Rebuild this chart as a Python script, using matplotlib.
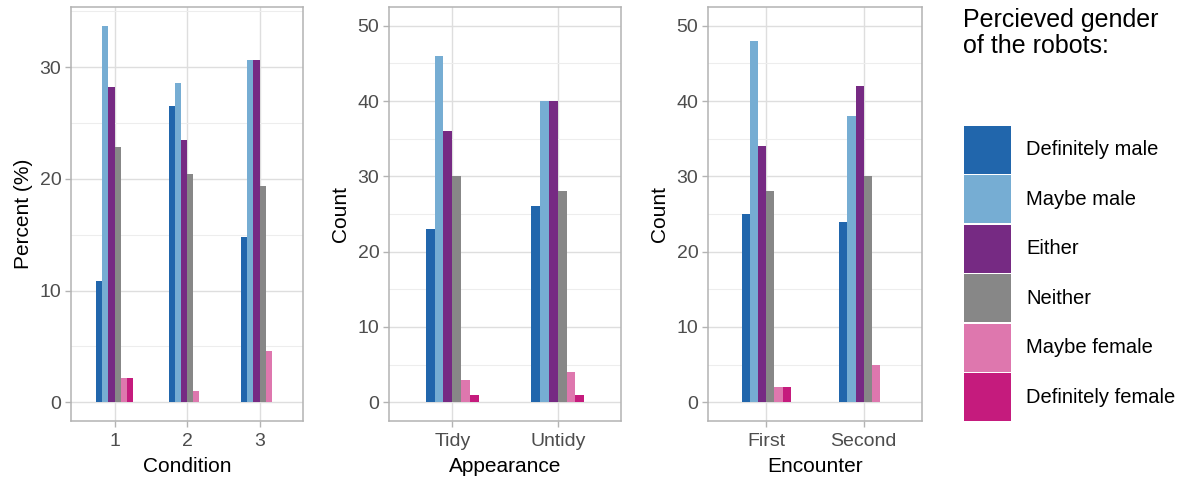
import matplotlib
matplotlib.use("Agg")
import matplotlib.pyplot as plt
from matplotlib.patches import Rectangle
from matplotlib.ticker import MultipleLocator
import numpy as np

plt.rcParams['font.family'] = ['Liberation Sans', 'DejaVu Sans']

genders = ["Definitely male", "Maybe male", "Either", "Neither",
           "Maybe female", "Definitely female"]
colors = ["#2166AC", "#76ADD3", "#762A83", "#878787", "#DE77AE", "#C51B7D"]

# Panel 1: percent by condition (rows = gender, cols = condition)
conditions = ["1", "2", "3"]
percent = {
    "Definitely male":   [10.87, 26.53, 14.77],
    "Maybe male":        [33.70, 28.57, 30.68],
    "Either":            [28.26, 23.47, 30.68],
    "Neither":           [22.83, 20.41, 19.32],
    "Maybe female":      [2.17, 1.02, 4.55],
    "Definitely female": [2.17, 0.0, 0.0],
}

# Panel 2: count by appearance
appearance = ["Tidy", "Untidy"]
count_app = {
    "Definitely male":   [23, 26],
    "Maybe male":        [46, 40],
    "Either":            [36, 40],
    "Neither":           [30, 28],
    "Maybe female":      [3, 4],
    "Definitely female": [1, 1],
}

# Panel 3: count by encounter
encounter = ["First", "Second"]
count_enc = {
    "Definitely male":   [25, 24],
    "Maybe male":        [48, 38],
    "Either":            [34, 42],
    "Neither":           [28, 30],
    "Maybe female":      [2, 5],
    "Definitely female": [2, 0],
}

W, H = 1181, 480
fig = plt.figure(figsize=(W / 100, H / 100), dpi=100)

def px_axes(left, right, top, bottom):
    return fig.add_axes([left / W, 1 - bottom / H, (right - left) / W, (bottom - top) / H])

grid_major = "#DEDEDE"
grid_minor = "#EDEDED"
border = "#B3B3B3"
tick_col = "#4D4D4D"

def draw_panel(ax, cats, data, xlabel, ylabel, ylim, major, minor):
    x = np.arange(1, len(cats) + 1)
    n = len(genders)
    bw = 0.5 / n
    for i, (g, c) in enumerate(zip(genders, colors)):
        ax.bar(x + (i - (n - 1) / 2) * bw, data[g], width=bw, color=c,
               edgecolor="none", zorder=3)
    ax.set_xlim(0.4, len(cats) + 0.6)
    ax.set_ylim(*ylim)
    ax.set_xticks(x)
    ax.set_xticklabels(cats)
    ax.yaxis.set_major_locator(MultipleLocator(major))
    ax.yaxis.set_minor_locator(MultipleLocator(minor))
    ax.grid(which="major", color=grid_major, linewidth=1.0, zorder=0)
    ax.grid(which="minor", axis="y", color=grid_minor, linewidth=0.8, zorder=0)
    ax.set_axisbelow(True)
    for s in ax.spines.values():
        s.set_color(border)
        s.set_linewidth(1.1)
    ax.tick_params(axis="both", which="major", color=border, length=4.5, width=1.0,
                   labelsize=14, labelcolor=tick_col, pad=2.5)
    ax.tick_params(axis="x", which="major", pad=4.5)
    ax.tick_params(axis="y", which="minor", length=0)
    ax.set_xlabel(xlabel, fontsize=15, color="black", labelpad=5)
    ax.set_ylabel(ylabel, fontsize=15, color="black", labelpad=5)

ax1 = px_axes(71, 303, 7, 421)
pmax = max(max(v) for v in percent.values())
draw_panel(ax1, conditions, percent, "Condition", "Percent (%)",
           (-0.05 * pmax, 1.05 * pmax), 10, 5)

ax2 = px_axes(389, 621, 7, 421)
draw_panel(ax2, appearance, count_app, "Appearance", "Count", (-2.5, 52.5), 10, 5)

ax3 = px_axes(708, 922, 7, 421)
draw_panel(ax3, encounter, count_enc, "Encounter", "Count", (-2.5, 52.5), 10, 5)

# Legend (manual, ggplot-like)
fig.text(963 / W, 1 - 8 / H, "Percieved gender\nof the robots:", fontsize=18,
         ha="left", va="top", color="black", linespacing=1.12)
key_left, key_w, key_h, key_top = 964, 47, 49.5, 125
for i, (g, c) in enumerate(zip(genders, colors)):
    top = key_top + i * key_h
    fig.patches.append(Rectangle((key_left / W, 1 - (top + key_h - 1) / H),
                                 key_w / W, (key_h - 1.5) / H,
                                 transform=fig.transFigure, facecolor=c,
                                 edgecolor="none"))
    fig.text(1026 / W, 1 - (top + key_h / 2) / H, g, fontsize=14.5,
             ha="left", va="center", color="black")

fig.savefig("out.png", dpi=100)
